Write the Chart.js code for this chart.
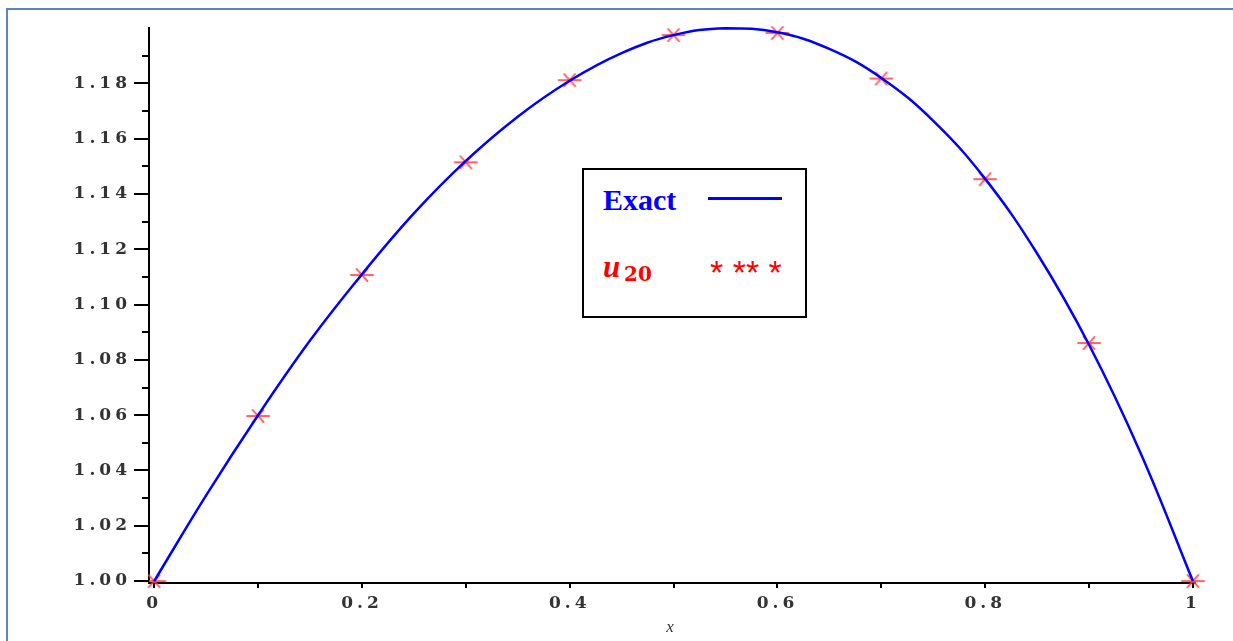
<!DOCTYPE html>
<html>
<head>
<meta charset="utf-8">
<script src="https://cdn.jsdelivr.net/npm/chart.js@4"></script>
<style>
  html, body { margin: 0; padding: 0; background: #fff; overflow: hidden; }
  #wrap { position: relative; width: 1233px; height: 641px; }
  #frame { position: absolute; left: 6px; top: 8px; width: 1300px; height: 700px; border: 2px solid #5b86c0; box-sizing: border-box; }
  canvas { position: absolute; left: 0; top: 0; }
  #legend { position: absolute; left: 582px; top: 168px; width: 225px; height: 150px; border: 2px solid #000; box-sizing: border-box; background: #fff; }
  #legend span { position: absolute; white-space: pre; }
  .exact { left: 19px; top: 15px; font: bold 30px/30px "Liberation Serif", serif; color: #0000ff; }
  .exactLine { left: 124px; top: 27px; width: 74px; height: 3px; background: #0000ff; }
  .u { left: 19px; top: 82px; font: italic bold 31px/30px "Liberation Serif", serif; color: #ff0000; }
  .sub { left: 40px; top: 94px; font: bold 20px/20px "DejaVu Serif", serif; color: #ff0000; }
  .stars { left: 126px; top: 87px; font: 34px/30px "Liberation Sans", sans-serif; color: #ff0000; }
</style>
</head>
<body>
<div id="wrap">
  <div id="frame"></div>
  <canvas id="plot" width="1233" height="641"></canvas>
  <div id="legend">
    <span class="exact">Exact</span>
    <span class="exactLine"></span>
    <span class="u">u</span>
    <span class="sub">20</span>
    <span class="stars">* ** *</span>
  </div>
</div>
<script>
// exact solution
const curveX = [0, 0.05, 0.1, 0.15, 0.2, 0.25, 0.3, 0.35, 0.4, 0.45, 0.5, 0.55, 0.6, 0.65, 0.7, 0.75, 0.8, 0.85, 0.9, 0.95, 1];
const exactY = [1.000, 1.031, 1.060, 1.087, 1.111, 1.133, 1.152, 1.168, 1.181, 1.191, 1.1975, 1.200, 1.1985, 1.1925, 1.182, 1.1665, 1.1455, 1.1185, 1.0855, 1.046, 1.000];

// u20 approximation (stars)
const starX = [0, 0.1, 0.2, 0.3, 0.4, 0.5, 0.6, 0.7, 0.8, 0.9, 1];
const u20Y = [1.000, 1.0597, 1.1107, 1.1515, 1.1812, 1.1975, 1.1983, 1.1818, 1.1454, 1.0861, 1.000];

// ticks
const xTicks = [0, 0.1, 0.2, 0.3, 0.4, 0.5, 0.6, 0.7, 0.8, 0.9, 1];
const xTickLabels = ['0', '', '0.2', '', '0.4', '', '0.6', '', '0.8', '', '1'];
const yTicks = [1.00, 1.01, 1.02, 1.03, 1.04, 1.05, 1.06, 1.07, 1.08, 1.09, 1.10, 1.11, 1.12, 1.13, 1.14, 1.15, 1.16, 1.17, 1.18, 1.19];
const yTickLabels = ['1.00', '', '1.02', '', '1.04', '', '1.06', '', '1.08', '', '1.10', '', '1.12', '', '1.14', '', '1.16', '', '1.18', ''];

function makeStar() {
    const c = document.createElement('canvas');
    c.width = 26; c.height = 18;
    const g = c.getContext('2d');
    g.strokeStyle = 'rgba(255, 70, 70, 0.85)';
    g.lineWidth = 2;
    g.lineCap = 'round';
    [0, 60, 120].forEach(a => {
        const r = a * Math.PI / 180;
        const dx = Math.cos(r) * 11, dy = Math.sin(r) * 7;
        g.beginPath();
        g.moveTo(13 - dx, 9 - dy);
        g.lineTo(13 + dx, 9 + dy);
        g.stroke();
    });
    return c;
}

const tickFont = { family: '"DejaVu Serif", serif', size: 17, weight: 'bold' };

// y axis ticks: long ones at labels, short ones between
const axisTicks = {
    id: 'axisTicks',
    beforeDraw(chart) {
        chart.ctx.letterSpacing = '4px';
    },
    afterDraw(chart) {
        const ys = chart.scales.y;
        const ctx = chart.ctx;
        ctx.save();
        ctx.strokeStyle = '#000';
        ctx.lineWidth = 2;
        yTicks.forEach((v, i) => {
            const py = Math.round(ys.getPixelForValue(v));
            const len = yTickLabels[i] ? 15 : 7;
            ctx.beginPath();
            ctx.moveTo(ys.right - len, py);
            ctx.lineTo(ys.right, py);
            ctx.stroke();
        });
        ctx.restore();
    }
};

const ctx = document.getElementById('plot').getContext('2d');
new Chart(ctx, {
    type: 'scatter',
    data: {
        datasets: [{
            label: 'Exact',
            data: curveX.map((x, i) => ({ x: x, y: exactY[i] })),
            showLine: true,
            borderColor: '#0000ff',
            borderWidth: 2.5,
            pointRadius: 0,
            tension: 0.4,
            clip: false
        }, {
            label: 'u20',
            data: starX.map((x, i) => ({ x: x, y: u20Y[i] })),
            showLine: false,
            pointStyle: makeStar(),
            pointRadius: 6,
            clip: false
        }]
    },
    options: {
        responsive: false,
        animation: false,
        layout: { padding: { left: 0, top: 28, right: 38, bottom: 0 } },
        plugins: { legend: { display: false }, tooltip: { enabled: false } },
        scales: {
            x: {
                type: 'linear',
                min: -0.005,
                max: 1.002,
                afterBuildTicks: (s) => { s.ticks = xTicks.map(v => ({ value: v })); },
                afterFit: (s) => { s.height = 58; },
                ticks: {
                    autoSkip: false,
                    maxRotation: 0,
                    padding: 5,
                    color: '#333',
                    font: tickFont,
                    callback: (v, i) => xTickLabels[i]
                },
                grid: { display: true, drawOnChartArea: false, drawTicks: true, tickLength: 5, color: '#000', lineWidth: 2 },
                border: { display: true, color: '#000', width: 2 },
                title: {
                    display: true,
                    text: 'x',
                    color: '#333',
                    font: { family: '"Liberation Serif", serif', size: 17, style: 'italic' },
                    padding: { top: 0, bottom: 3 }
                }
            },
            y: {
                type: 'linear',
                min: 0.9993,
                max: 1.2,
                afterBuildTicks: (s) => { s.ticks = yTicks.map(v => ({ value: v })); },
                afterFit: (s) => { s.width = 149; },
                ticks: {
                    autoSkip: false,
                    padding: 18,
                    color: '#333',
                    font: tickFont,
                    callback: (v, i) => yTickLabels[i]
                },
                grid: { display: true, drawOnChartArea: false, drawTicks: false },
                border: { display: true, color: '#000', width: 2 }
            }
        }
    },
    plugins: [axisTicks]
});
</script>
</body>
</html>
